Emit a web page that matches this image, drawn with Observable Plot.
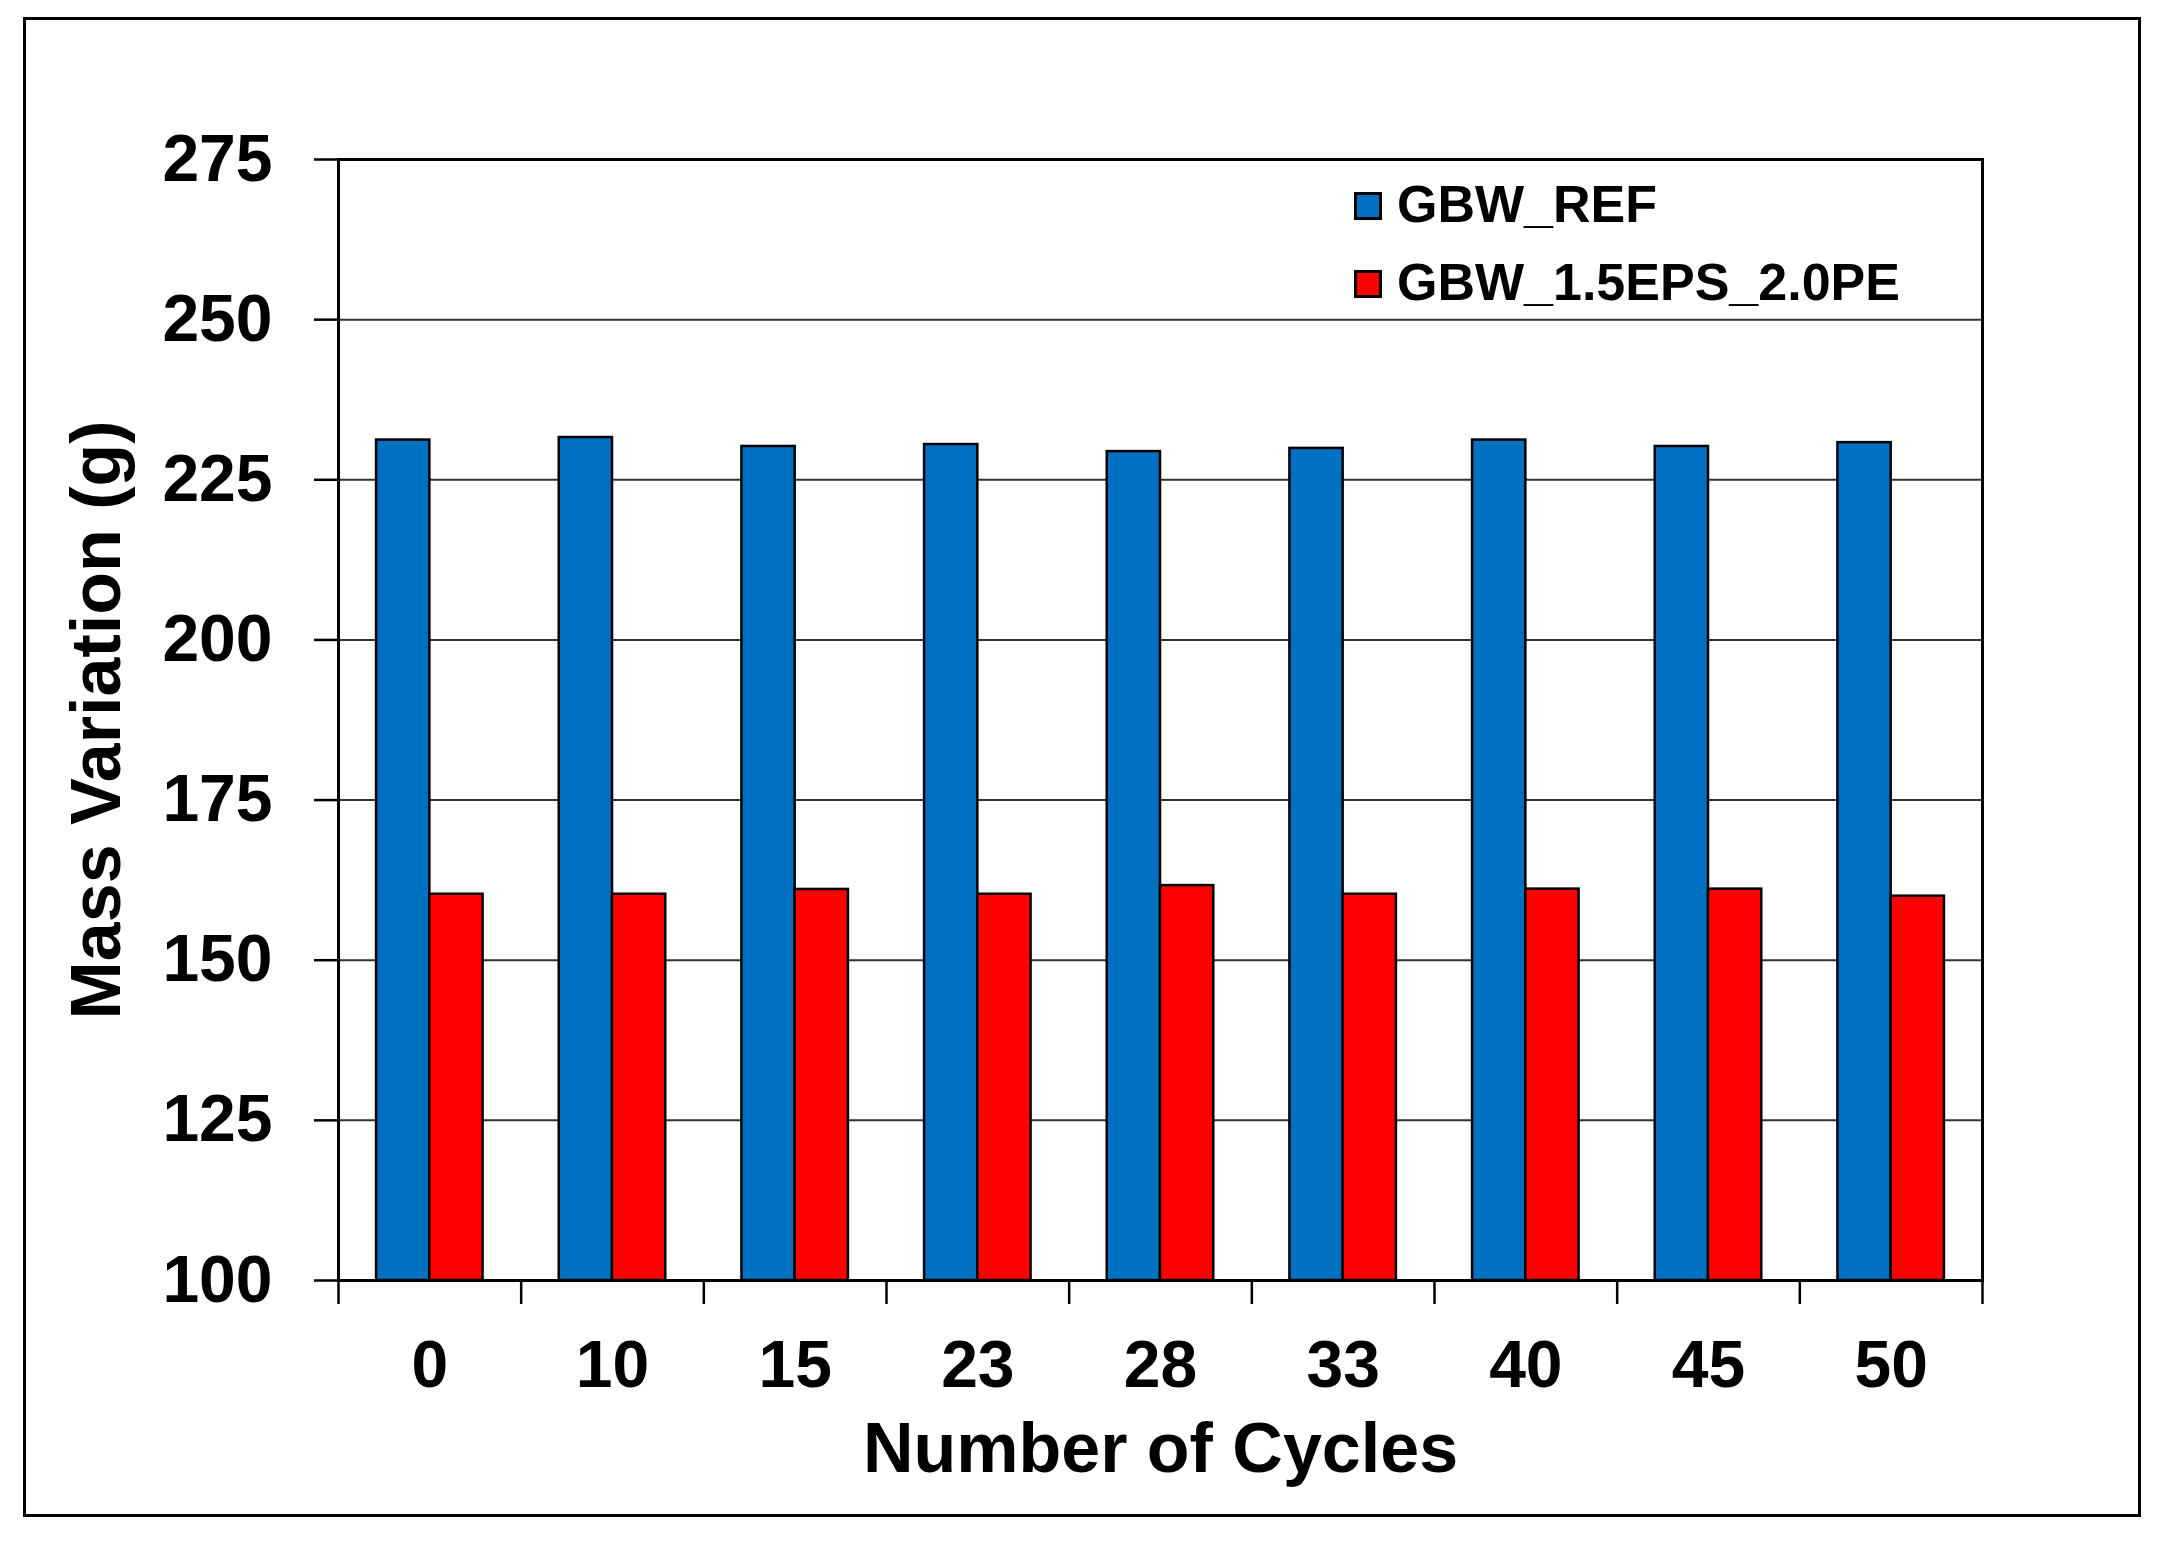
<!DOCTYPE html>
<html>
<head>
<meta charset="utf-8">
<script src="https://cdn.jsdelivr.net/npm/d3@7"></script>
<script src="https://cdn.jsdelivr.net/npm/@observablehq/plot@0.6"></script>
<style>
  html, body { margin: 0; padding: 0; background: #fff; }
  body { width: 2166px; height: 1544px; position: relative; overflow: hidden; font-family: "Liberation Sans", Arial, sans-serif; }
  #border { position: absolute; left: 23px; top: 17px; width: 2118px; height: 1500px; border: 3px solid #000; box-sizing: border-box; }
  #chart { position: absolute; left: 0; top: 0; }
  #legend { position: absolute; left: 0; top: 0; }
</style>
</head>
<body>
<div id="border"></div>
<div id="chart"></div>
<svg id="legend" width="2166" height="400"></svg>
<script>
// ---- data ----
const cycles = ["0", "10", "15", "23", "28", "33", "40", "45", "50"];
const refMass = [231.2, 231.6, 230.2, 230.5, 229.4, 229.9, 231.2, 230.2, 230.8];
const epsMass = [160.3, 160.3, 161.05, 160.3, 161.65, 160.3, 161.1, 161.1, 160.0];
const seriesNames = ["GBW_REF", "GBW_1.5EPS_2.0PE"];
const seriesColors = ["#0070C0", "#FF0000"];
const yTicks = [100, 125, 150, 175, 200, 225, 250, 275];
const xTitle = "Number of Cycles";
const yTitle = "Mass Variation (g)";

// ---- layout ----
const barFrac = 0.2915; // fraction of a category step per bar
const yMin = 100, yMax = 275;

const data = cycles.flatMap((c, i) => [
  {i, s: 0, value: refMass[i]},
  {i, s: 1, value: epsMass[i]}
]);

const font = '"Liberation Sans", Arial, sans-serif';

const chart = Plot.plot({
  width: 2166,
  height: 1544,
  marginLeft: 338,
  marginRight: 184,
  marginTop: 159,
  marginBottom: 264,
  style: {background: "transparent", fontFamily: font, fontWeight: "bold", fontSize: "66px", color: "#000", overflow: "visible"},
  x: {domain: [-0.5, cycles.length - 0.5], axis: null},
  y: {domain: [yMin, yMax], axis: null},
  marks: [
    Plot.ruleY(yTicks.slice(1, -1), {stroke: "#333", strokeWidth: 2}),
    Plot.rectY(data, {
      x1: d => d.s === 0 ? d.i - barFrac : d.i,
      x2: d => d.s === 0 ? d.i : d.i + barFrac,
      y1: yMin,
      y2: "value",
      fill: d => seriesColors[d.s],
      stroke: "#000",
      strokeWidth: 2.5
    }),
    Plot.axisY({ticks: yTicks, tickSize: 24, tickPadding: 42, tickFormat: d => String(d), stroke: "#000", strokeWidth: 2.5, fontSize: 66, fontWeight: "bold", label: null}),
    Plot.axisX({ticks: d3.range(cycles.length), tickFormat: i => cycles[i], tickSize: 0, tickPadding: 60, fontSize: 66, fontWeight: "bold", label: null}),
    Plot.axisX({ticks: d3.range(cycles.length + 1).map(i => i - 0.5), tickFormat: () => "", tickSize: 24, stroke: "#000", strokeWidth: 2.5, label: null}),
    Plot.frame({stroke: "#000", strokeWidth: 3}),
    Plot.text([xTitle], {text: d => d, frameAnchor: "bottom", textAnchor: "middle", lineAnchor: "top", dy: 142, fontSize: 70, fontWeight: "bold", fill: "#000"}),
    Plot.text([yTitle], {text: d => d, frameAnchor: "left", textAnchor: "middle", lineAnchor: "top", rotate: -90, dx: -268, fontSize: 70, fontWeight: "bold", fill: "#000"})
  ]
});
document.getElementById("chart").appendChild(chart);

// ---- legend ----
const lg = d3.select("#legend");
const legendX = 1354, legendRowTop = [192, 270], box = 28;
seriesNames.forEach((name, k) => {
  lg.append("rect")
    .attr("x", legendX + 1.5).attr("y", legendRowTop[k] + 1.5)
    .attr("width", box - 3).attr("height", box - 3)
    .attr("fill", seriesColors[k]).attr("stroke", "#000").attr("stroke-width", 3);
  lg.append("text")
    .attr("x", legendX + 43).attr("y", legendRowTop[k] + 30)
    .attr("font-family", font).attr("font-weight", "bold").attr("font-size", 52)
    .attr("fill", "#000")
    .text(name);
});
</script>
</body>
</html>
